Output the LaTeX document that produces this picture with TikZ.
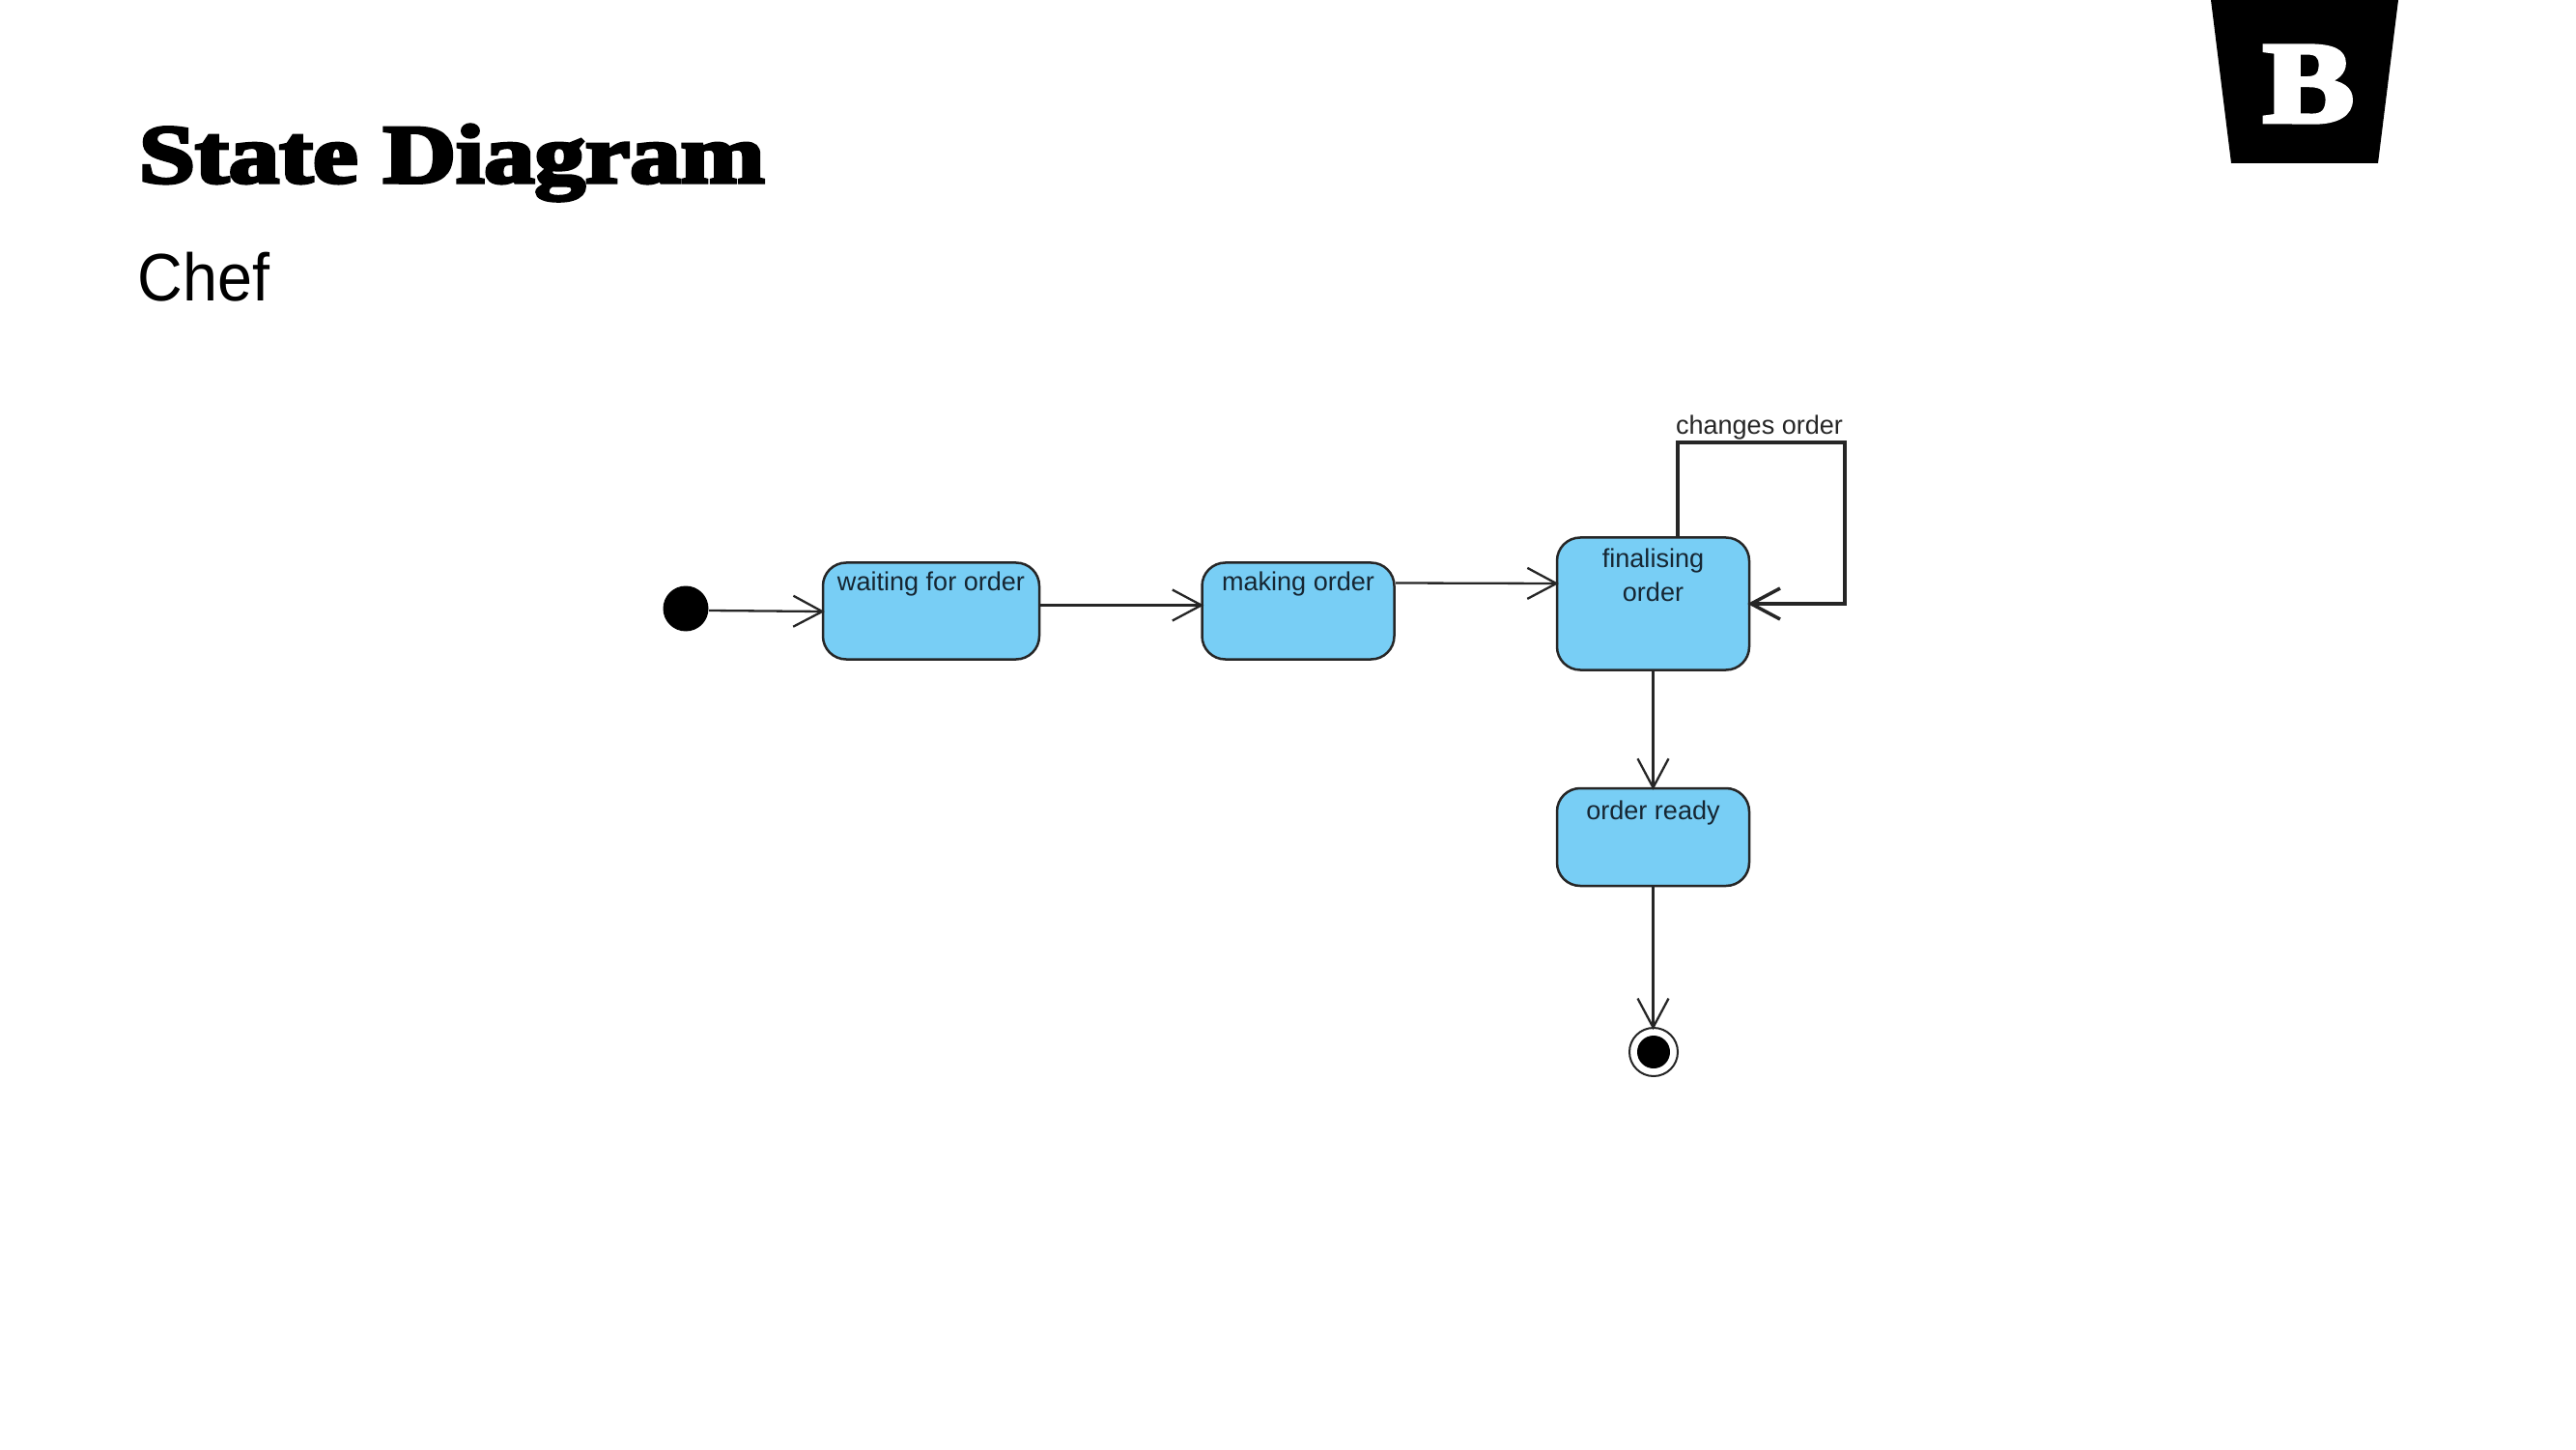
\documentclass[tikz,border=0pt]{standalone}
\usepackage{fontspec}
\setmainfont{Liberation Sans}
\newfontfamily\titlefont{Liberation Serif}[BoldFeatures={FakeBold=4}]
\usetikzlibrary{arrows.meta, positioning}

\tikzset{
    statebox/.style={draw=lineDark, fill=stateBlue, line width=0.025cm, rounded corners=0.24cm,
        minimum width=1.99cm, inner xsep=0pt, inner ysep=0pt, text=labelDark, font=\fontsize{7.7}{9.9}\selectfont, align=center},
    transition/.style={draw=lineDark, line width=0.023cm, shorten >=-0.03cm, -{Straight Barb[length=0.3cm,width=0.32cm]}},
}

\begin{document}
\begin{tikzpicture}
    % colours
    \definecolor{stateBlue}{RGB}{120,206,245}
    \definecolor{lineDark}{RGB}{38,38,38}
    \definecolor{labelDark}{RGB}{22,38,50}
    \useasboundingbox (0,0) rectangle (26.67,15);

    % heading
    \node[anchor=base west, inner sep=0pt, font=\titlefont\bfseries\fontsize{24.6}{26}\selectfont, transform shape, xscale=1.21] (title) at (1.43,13.11) {State Diagram};
    \node[anchor=base west, inner sep=0pt, font=\fontsize{19.8}{22}\selectfont, transform shape, xscale=0.93] (chef) at (1.42,11.88) {Chef};

    % logo
    \fill[black] (22.89,15) -- (24.83,15) -- (24.62,13.31) -- (23.10,13.31) -- cycle;
    \node[anchor=base, inner sep=0pt, text=white, font=\titlefont\bfseries\fontsize{34}{36}\selectfont, transform shape, xscale=1.18] (logo) at (23.90,13.74) {B};

    % states
    \node[circle, fill=black, minimum size=0.47cm, inner sep=0pt] (start) at (7.10,8.70) {};
    \node[statebox, minimum width=2.24cm, text height=0.29cm, text depth=0.71cm] (waiting) at (9.64,8.675) {waiting for order};
    \node[statebox, text height=0.29cm, text depth=0.71cm] (making) at (13.44,8.675) {making order};
    \node[statebox, text height=0.66cm, text depth=0.71cm] (finalising) at (17.115,8.75) {finalising\\order};
    \node[statebox, text height=0.32cm, text depth=0.69cm] (ready) at (17.115,6.335) {order ready};
    \node[circle, draw=lineDark, fill=white, line width=0.02cm, minimum size=0.5cm, inner sep=0pt] (endring) at (17.12,4.11) {};
    \node[circle, fill=black, minimum size=0.34cm, inner sep=0pt] (enddot) at (endring) {};

    % transitions
    \draw[transition] ([yshift=-0.02cm]start.east) -- ([yshift=-0.005cm]waiting.west);
    \draw[transition] ([yshift=0.06cm]waiting.east) -- ([yshift=0.06cm]making.west);
    \draw[transition] ([yshift=0.29cm]making.east) -- ([yshift=0.21cm]finalising.west);
    \draw[transition] (finalising.south) -- (ready.north);
    \draw[transition] (ready.south) -- (endring.north -| ready.south);

    % self loop
    \coordinate (looptop) at (19.10,10.42);
    \draw[transition, line width=0.035cm] ([xshift=0.255cm]finalising.north) |- (looptop) |- (finalising.east);
    \node[anchor=base, inner sep=0pt, text=lineDark, font=\fontsize{7.7}{9.9}\selectfont] (changes) at (18.215,10.50) {changes order};
\end{tikzpicture}
\end{document}
